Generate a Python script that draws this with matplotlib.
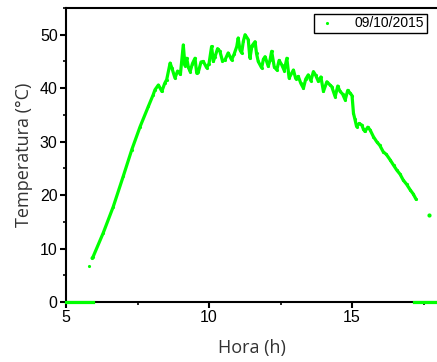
import matplotlib.pyplot as plt
from matplotlib.ticker import MultipleLocator

# datos (hora, temperatura)
hora = [5.80, 5.91, 5.95, 6.30, 6.65, 7.00, 7.30, 7.59, 7.88, 8.05, 8.11, 8.23, 8.35,
        8.45, 8.52, 8.64, 8.70, 8.81, 8.90, 9.00, 9.10, 9.16, 9.22, 9.28, 9.34, 9.42,
        9.51, 9.57, 9.63, 9.72, 9.80, 9.92, 10.00, 10.09, 10.15,
        10.21, 10.30, 10.38, 10.47, 10.56, 10.67, 10.79, 10.88, 10.97, 11.02, 11.08,
        11.14, 11.20, 11.26, 11.37, 11.43, 11.50, 11.61, 11.66, 11.72, 11.84, 11.90,
        11.96, 12.07, 12.13, 12.19, 12.28, 12.37, 12.45, 12.54, 12.63, 12.72, 12.80,
        12.95, 13.03, 13.12, 13.21, 13.30, 13.38, 13.47, 13.56, 13.65, 13.73, 13.82,
        13.91, 14.00, 14.12, 14.23, 14.29, 14.41, 14.50, 14.58, 14.67, 14.76, 14.85,
        14.93, 15.00, 15.05, 15.10, 15.16, 15.25, 15.34, 15.40, 15.45, 15.55, 15.63,
        15.75, 15.86, 15.97, 16.09, 16.20, 16.33, 16.45, 16.56, 16.68, 16.79, 16.91,
        17.03, 17.14, 17.24]
temp = [6.7, 8.2, 8.5, 12.9, 17.8, 23.5, 28.5, 32.8, 36.6, 38.8, 39.7, 40.6, 39.4,
        40.9, 41.6, 44.7, 43.8, 41.9, 43.2, 42.6, 48.1, 44.2, 45.6, 43.9, 43.1, 44.6,
        45.6, 42.8, 43.1, 44.9, 45.0, 43.8, 44.6, 47.8, 45.0,
        45.9, 47.4, 46.9, 45.1, 45.3, 46.6, 45.3, 46.4, 47.8, 49.4, 47.2,
        46.6, 48.8, 50.0, 49.1, 45.6, 47.9, 48.7, 46.5, 45.0, 43.8, 45.4,
        45.9, 44.1, 45.2, 46.9, 44.0, 43.4, 45.2, 44.4, 43.3, 45.6, 41.9,
        43.4, 41.8, 42.2, 40.9, 40.0, 41.7, 42.5, 41.4, 43.1, 42.4, 41.3,
        42.1, 39.4, 41.2, 40.6, 40.3, 38.4, 40.4, 39.4, 38.9, 37.8, 39.6,
        39.1, 38.6, 35.3, 34.2, 32.8, 33.4, 33.1, 32.3, 31.9, 32.7, 32.2,
        30.9, 30.0, 29.3, 28.1, 27.6, 26.6, 25.6, 24.7, 23.9, 22.8, 22.0,
        21.0, 20.2, 19.2]
hora_aislada = [17.70]
temp_aislada = [16.2]
hora_cero_1 = [5.0, 5.95]
hora_cero_2 = [17.15, 18.0]
cero = [0, 0]

verde = '#00ff00'

fig = plt.figure(figsize=(4.37, 3.62), dpi=100)
ax = fig.add_axes([66 / 437, 60 / 362, 371 / 437, 294 / 362])

ax.plot(hora[1:], temp[1:], '-', color=verde, lw=2.3, solid_capstyle='round',
        solid_joinstyle='round')
ax.plot(hora, temp, '.', color=verde, ms=2.5, label='09/10/2015')
ax.plot(hora_aislada, temp_aislada, '.', color=verde, ms=4)
ax.plot(hora_cero_1, cero, '-', color=verde, lw=2.3, clip_on=False, zorder=4)
ax.plot(hora_cero_2, cero, '-', color=verde, lw=2.3, clip_on=False, zorder=4)

ax.set_xlim(5, 17.97)
ax.set_ylim(0, 55)
ax.spines['right'].set_visible(False)
for s in ['left', 'bottom', 'top']:
    ax.spines[s].set_linewidth(1.5)

ax.xaxis.set_major_locator(MultipleLocator(5))
ax.xaxis.set_minor_locator(MultipleLocator(2.5))
ax.yaxis.set_major_locator(MultipleLocator(10))
ax.yaxis.set_minor_locator(MultipleLocator(5))
ax.tick_params(which='major', direction='out', length=4, width=1.5,
               labelsize=11.5, pad=2)
ax.tick_params(which='minor', direction='out', length=2.5, width=1.2)
for lbl in ax.get_xticklabels() + ax.get_yticklabels():
    lbl.set_family('Liberation Sans')

ax.set_xlabel('Hora (h)', fontsize=13, color='#333333', family='Open Sans', labelpad=10)
ax.set_ylabel('Temperatura (°C)', fontsize=13, color='#333333', family='Open Sans', labelpad=5)

leg = ax.legend(loc='upper right', bbox_to_anchor=(0.98, 0.99), fancybox=False,
                edgecolor='black', framealpha=1, borderpad=0.2, handlelength=1.5,
                handletextpad=1.2, borderaxespad=0.2,
                prop={'family': 'Liberation Sans', 'size': 10})
leg.get_frame().set_linewidth(1.0)

fig.savefig('out.png', dpi=100)
